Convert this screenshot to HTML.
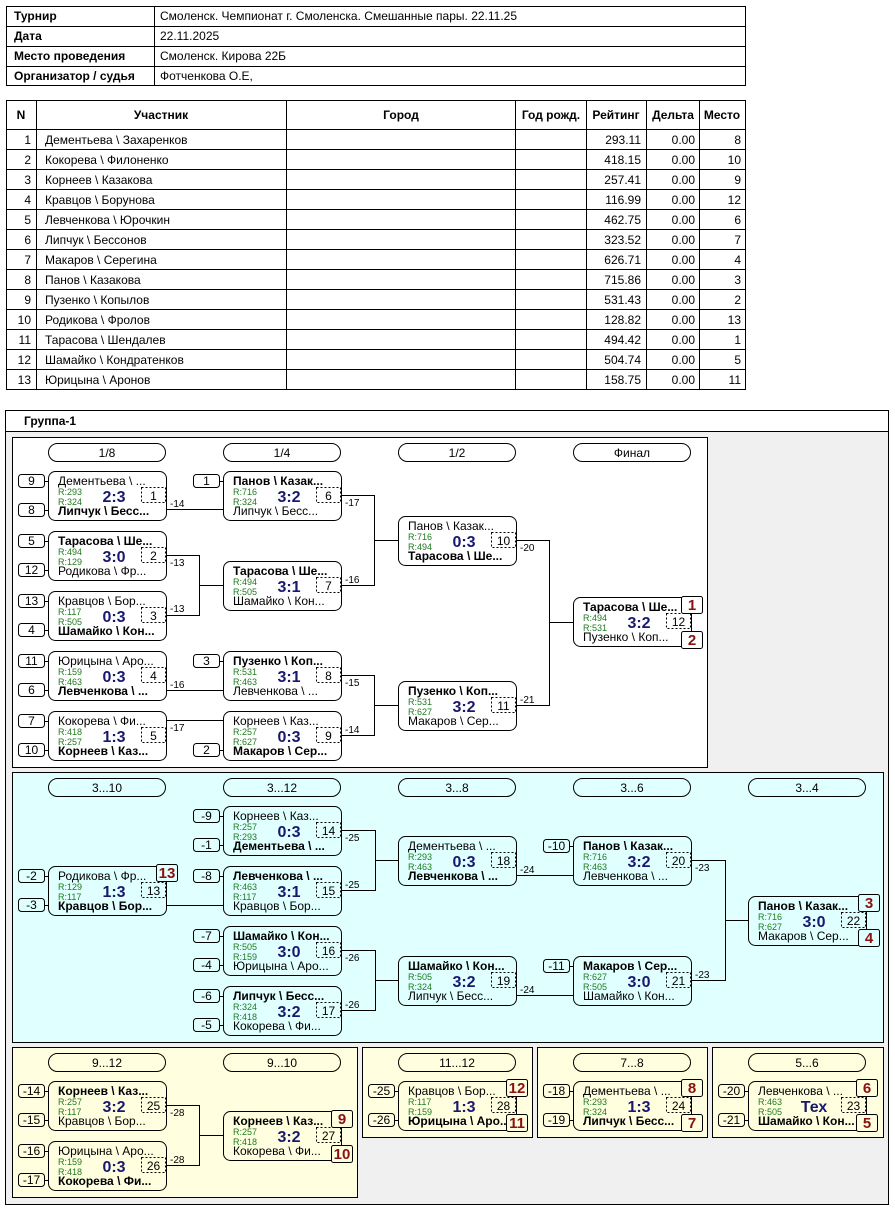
<!DOCTYPE html>
<html><head><meta charset="utf-8">
<style>
html,body{margin:0;padding:0;background:#fff;width:895px;height:1210px;overflow:hidden}
svg{display:block}
text{font-family:"Liberation Sans","DejaVu Sans",sans-serif;font-size:12px;fill:#000}
.b{font-weight:bold}
.r{font-size:9px;fill:#1e7b1e}
.s{font-size:16px;font-weight:bold;fill:#18186e;text-anchor:middle}
.c{text-anchor:middle}
.e{text-anchor:end}
.l{font-size:10px}
.p{font-size:15px;font-weight:bold;fill:#8b1010;text-anchor:middle}
.k{fill:none;stroke:#000;stroke-width:1}
.dn{fill:none;stroke:#000;stroke-width:1;stroke-dasharray:2 2}
.ln{fill:none;stroke:#000;stroke-width:1}
</style></head><body>
<svg width="895" height="1210" viewBox="0 0 895 1210" xmlns="http://www.w3.org/2000/svg">
<!-- info table -->
<rect class="k" x="6.5" y="6.5" width="739" height="79"/>
<path class="ln" d="M6 26.5H746M6 46.5H746M6 66.5H746M154.5 6V86"/>
<text class="b" x="14" y="20">Турнир</text>
<text class="b" x="14" y="40">Дата</text>
<text class="b" x="14" y="60">Место проведения</text>
<text class="b" x="14" y="80">Организатор / судья</text>
<text x="160" y="20">Смоленск. Чемпионат г. Смоленска. Смешанные пары. 22.11.25</text>
<text x="160" y="40">22.11.2025</text>
<text x="160" y="60">Смоленск. Кирова 22Б</text>
<text x="160" y="80">Фотченкова О.Е,</text>

<!-- participants table -->
<rect class="k" x="6.5" y="100.5" width="739" height="289"/>
<path class="ln" d="M6 129.5H746M6 149.5H746M6 169.5H746M6 189.5H746M6 209.5H746M6 229.5H746M6 249.5H746M6 269.5H746M6 289.5H746M6 309.5H746M6 329.5H746M6 349.5H746M6 369.5H746M36.5 100V390M286.5 100V390M515.5 100V390M586.5 100V390M646.5 100V390M699.5 100V390"/>
<text class="b c" x="21" y="119">N</text>
<text class="b c" x="161" y="119">Участник</text>
<text class="b c" x="401" y="119">Город</text>
<text class="b c" x="551" y="119">Год рожд.</text>
<text class="b c" x="616" y="119">Рейтинг</text>
<text class="b c" x="673" y="119">Дельта</text>
<text class="b c" x="722" y="119">Место</text>

<g>
<text class="e" x="31" y="144">1</text><text x="45" y="144">Дементьева \ Захаренков</text><text class="e" x="641" y="144">293.11</text><text class="e" x="695" y="144">0.00</text><text class="e" x="741" y="144">8</text>
<text class="e" x="31" y="164">2</text><text x="45" y="164">Кокорева \ Филоненко</text><text class="e" x="641" y="164">418.15</text><text class="e" x="695" y="164">0.00</text><text class="e" x="741" y="164">10</text>
<text class="e" x="31" y="184">3</text><text x="45" y="184">Корнеев \ Казакова</text><text class="e" x="641" y="184">257.41</text><text class="e" x="695" y="184">0.00</text><text class="e" x="741" y="184">9</text>
<text class="e" x="31" y="204">4</text><text x="45" y="204">Кравцов \ Борунова</text><text class="e" x="641" y="204">116.99</text><text class="e" x="695" y="204">0.00</text><text class="e" x="741" y="204">12</text>
<text class="e" x="31" y="224">5</text><text x="45" y="224">Левченкова \ Юрочкин</text><text class="e" x="641" y="224">462.75</text><text class="e" x="695" y="224">0.00</text><text class="e" x="741" y="224">6</text>
<text class="e" x="31" y="244">6</text><text x="45" y="244">Липчук \ Бессонов</text><text class="e" x="641" y="244">323.52</text><text class="e" x="695" y="244">0.00</text><text class="e" x="741" y="244">7</text>
<text class="e" x="31" y="264">7</text><text x="45" y="264">Макаров \ Серегина</text><text class="e" x="641" y="264">626.71</text><text class="e" x="695" y="264">0.00</text><text class="e" x="741" y="264">4</text>
<text class="e" x="31" y="284">8</text><text x="45" y="284">Панов \ Казакова</text><text class="e" x="641" y="284">715.86</text><text class="e" x="695" y="284">0.00</text><text class="e" x="741" y="284">3</text>
<text class="e" x="31" y="304">9</text><text x="45" y="304">Пузенко \ Копылов</text><text class="e" x="641" y="304">531.43</text><text class="e" x="695" y="304">0.00</text><text class="e" x="741" y="304">2</text>
<text class="e" x="31" y="324">10</text><text x="45" y="324">Родикова \ Фролов</text><text class="e" x="641" y="324">128.82</text><text class="e" x="695" y="324">0.00</text><text class="e" x="741" y="324">13</text>
<text class="e" x="31" y="344">11</text><text x="45" y="344">Тарасова \ Шендалев</text><text class="e" x="641" y="344">494.42</text><text class="e" x="695" y="344">0.00</text><text class="e" x="741" y="344">1</text>
<text class="e" x="31" y="364">12</text><text x="45" y="364">Шамайко \ Кондратенков</text><text class="e" x="641" y="364">504.74</text><text class="e" x="695" y="364">0.00</text><text class="e" x="741" y="364">5</text>
<text class="e" x="31" y="384">13</text><text x="45" y="384">Юрицына \ Аронов</text><text class="e" x="641" y="384">158.75</text><text class="e" x="695" y="384">0.00</text><text class="e" x="741" y="384">11</text>
</g>

<!-- group box -->
<rect x="5.5" y="410.5" width="883" height="794" fill="#f0f0f0" stroke="#000"/>
<rect x="6" y="411" width="882" height="20" fill="#fff"/>
<path class="ln" d="M5 431.5H889"/>
<text class="b" x="24" y="425">Группа-1</text>

<!-- panels -->
<rect x="12.5" y="437.5" width="695" height="330" fill="#fff" stroke="#000"/>
<rect x="12.5" y="772.5" width="871" height="270" fill="#e0ffff" stroke="#000"/>
<rect x="12.5" y="1047.5" width="345" height="150" fill="#ffffe0" stroke="#000"/>
<rect x="362.5" y="1047.5" width="170" height="90" fill="#ffffe0" stroke="#000"/>
<rect x="537.5" y="1047.5" width="170" height="90" fill="#ffffe0" stroke="#000"/>
<rect x="712.5" y="1047.5" width="171" height="90" fill="#ffffe0" stroke="#000"/>

<!-- pills -->
<g>
<rect class="k" x="48.5" y="443.5" width="117" height="18" rx="9"/><text class="c" x="107" y="457">1/8</text>
<rect class="k" x="223.5" y="443.5" width="117" height="18" rx="9"/><text class="c" x="282" y="457">1/4</text>
<rect class="k" x="398.5" y="443.5" width="117" height="18" rx="9"/><text class="c" x="457" y="457">1/2</text>
<rect class="k" x="573.5" y="443.5" width="117" height="18" rx="9"/><text class="c" x="632" y="457">Финал</text>

<rect class="k" x="48.5" y="778.5" width="117" height="18" rx="9"/><text class="c" x="107" y="792">3...10</text>
<rect class="k" x="223.5" y="778.5" width="117" height="18" rx="9"/><text class="c" x="282" y="792">3...12</text>
<rect class="k" x="398.5" y="778.5" width="117" height="18" rx="9"/><text class="c" x="457" y="792">3...8</text>
<rect class="k" x="573.5" y="778.5" width="117" height="18" rx="9"/><text class="c" x="632" y="792">3...6</text>
<rect class="k" x="748.5" y="778.5" width="117" height="18" rx="9"/><text class="c" x="807" y="792">3...4</text>

<rect class="k" x="48.5" y="1053.5" width="117" height="18" rx="9"/><text class="c" x="107" y="1067">9...12</text>
<rect class="k" x="223.5" y="1053.5" width="117" height="18" rx="9"/><text class="c" x="282" y="1067">9...10</text>
<rect class="k" x="398.5" y="1053.5" width="117" height="18" rx="9"/><text class="c" x="457" y="1067">11...12</text>
<rect class="k" x="573.5" y="1053.5" width="117" height="18" rx="9"/><text class="c" x="632" y="1067">7...8</text>
<rect class="k" x="748.5" y="1053.5" width="117" height="18" rx="9"/><text class="c" x="807" y="1067">5...6</text>
</g>

<!-- connector lines -->
<path class="ln" d="M166 509.5H223M166 555.5H199.5V615.5H166M199.5 585.5H223M166 690.5H223M166 720.5H223M341 495.5H374.5V585.5H341M374.5 540.5H398M341 675.5H374.5V735.5H341M374.5 705.5H398M516 540.5H549.5V705.5H516M549.5 622.5H573"/>
<path class="ln" d="M166 905.5H223M341 830.5H375.5V890.5H341M375.5 860.5H398M341 950.5H375.5V1010.5H341M375.5 980.5H398M516 875.5H573M516 995.5H573M691 860.5H725.5V980.5H691M725.5 920.5H748"/>
<path class="ln" d="M166 1105.5H199.5V1165.5H166M199.5 1135.5H223"/>

<!-- connector labels -->
<g class="l">
<text class="l" x="170" y="507">-14</text>
<text class="l" x="170" y="566">-13</text>
<text class="l" x="170" y="612">-13</text>
<text class="l" x="170" y="688">-16</text>
<text class="l" x="170" y="731">-17</text>
<text class="l" x="345" y="506">-17</text>
<text class="l" x="345" y="583">-16</text>
<text class="l" x="345" y="686">-15</text>
<text class="l" x="345" y="733">-14</text>
<text class="l" x="520" y="551">-20</text>
<text class="l" x="520" y="703">-21</text>
<text class="l" x="345" y="841">-25</text>
<text class="l" x="345" y="888">-25</text>
<text class="l" x="345" y="961">-26</text>
<text class="l" x="345" y="1008">-26</text>
<text class="l" x="520" y="873">-24</text>
<text class="l" x="520" y="993">-24</text>
<text class="l" x="695" y="871">-23</text>
<text class="l" x="695" y="978">-23</text>
<text class="l" x="170" y="1116">-28</text>
<text class="l" x="170" y="1163">-28</text>
</g>

<!-- ===== MATCHES ===== -->
<!-- M1 -->
<g transform="translate(48,471)">
<rect class="k" x=".5" y=".5" width="118" height="49" rx="7"/>
<text x="10" y="14">Дементьева \ ...</text><text class="r" x="10" y="24">R:293</text><text class="r" x="10" y="34">R:324</text><text class="b" x="10" y="44">Липчук \ Бесс...</text>
<text class="s" x="66" y="31">2:3</text><rect class="dn" x="93.5" y="16.5" width="24" height="15"/><text class="c" x="105.5" y="29">1</text>
<rect class="k" x="-29.5" y="3.5" width="26" height="13" rx="3"/><text class="c" x="-16.5" y="14">9</text><path class="ln" d="M-3 10.5H0"/>
<rect class="k" x="-29.5" y="32.5" width="26" height="13" rx="3"/><text class="c" x="-16.5" y="43">8</text><path class="ln" d="M-3 39.5H0"/>
</g>
<!-- M2 -->
<g transform="translate(48,531)">
<rect class="k" x=".5" y=".5" width="118" height="49" rx="7"/>
<text class="b" x="10" y="14">Тарасова \ Ше...</text><text class="r" x="10" y="24">R:494</text><text class="r" x="10" y="34">R:129</text><text x="10" y="44">Родикова \ Фр...</text>
<text class="s" x="66" y="31">3:0</text><rect class="dn" x="93.5" y="16.5" width="24" height="15"/><text class="c" x="105.5" y="29">2</text>
<rect class="k" x="-29.5" y="3.5" width="26" height="13" rx="3"/><text class="c" x="-16.5" y="14">5</text><path class="ln" d="M-3 10.5H0"/>
<rect class="k" x="-29.5" y="32.5" width="26" height="13" rx="3"/><text class="c" x="-16.5" y="43">12</text><path class="ln" d="M-3 39.5H0"/>
</g>
<!-- M3 -->
<g transform="translate(48,591)">
<rect class="k" x=".5" y=".5" width="118" height="49" rx="7"/>
<text x="10" y="14">Кравцов \ Бор...</text><text class="r" x="10" y="24">R:117</text><text class="r" x="10" y="34">R:505</text><text class="b" x="10" y="44">Шамайко \ Кон...</text>
<text class="s" x="66" y="31">0:3</text><rect class="dn" x="93.5" y="16.5" width="24" height="15"/><text class="c" x="105.5" y="29">3</text>
<rect class="k" x="-29.5" y="3.5" width="26" height="13" rx="3"/><text class="c" x="-16.5" y="14">13</text><path class="ln" d="M-3 10.5H0"/>
<rect class="k" x="-29.5" y="32.5" width="26" height="13" rx="3"/><text class="c" x="-16.5" y="43">4</text><path class="ln" d="M-3 39.5H0"/>
</g>
<!-- M4 -->
<g transform="translate(48,651)">
<rect class="k" x=".5" y=".5" width="118" height="49" rx="7"/>
<text x="10" y="14">Юрицына \ Аро...</text><text class="r" x="10" y="24">R:159</text><text class="r" x="10" y="34">R:463</text><text class="b" x="10" y="44">Левченкова \ ...</text>
<text class="s" x="66" y="31">0:3</text><rect class="dn" x="93.5" y="16.5" width="24" height="15"/><text class="c" x="105.5" y="29">4</text>
<rect class="k" x="-29.5" y="3.5" width="26" height="13" rx="3"/><text class="c" x="-16.5" y="14">11</text><path class="ln" d="M-3 10.5H0"/>
<rect class="k" x="-29.5" y="32.5" width="26" height="13" rx="3"/><text class="c" x="-16.5" y="43">6</text><path class="ln" d="M-3 39.5H0"/>
</g>
<!-- M5 -->
<g transform="translate(48,711)">
<rect class="k" x=".5" y=".5" width="118" height="49" rx="7"/>
<text x="10" y="14">Кокорева \ Фи...</text><text class="r" x="10" y="24">R:418</text><text class="r" x="10" y="34">R:257</text><text class="b" x="10" y="44">Корнеев \ Каз...</text>
<text class="s" x="66" y="31">1:3</text><rect class="dn" x="93.5" y="16.5" width="24" height="15"/><text class="c" x="105.5" y="29">5</text>
<rect class="k" x="-29.5" y="3.5" width="26" height="13" rx="3"/><text class="c" x="-16.5" y="14">7</text><path class="ln" d="M-3 10.5H0"/>
<rect class="k" x="-29.5" y="32.5" width="26" height="13" rx="3"/><text class="c" x="-16.5" y="43">10</text><path class="ln" d="M-3 39.5H0"/>
</g>
<!-- M6 -->
<g transform="translate(223,471)">
<rect class="k" x=".5" y=".5" width="118" height="49" rx="7"/>
<text class="b" x="10" y="14">Панов \ Казак...</text><text class="r" x="10" y="24">R:716</text><text class="r" x="10" y="34">R:324</text><text x="10" y="44">Липчук \ Бесс...</text>
<text class="s" x="66" y="31">3:2</text><rect class="dn" x="93.5" y="16.5" width="24" height="15"/><text class="c" x="105.5" y="29">6</text>
<rect class="k" x="-29.5" y="3.5" width="26" height="13" rx="3"/><text class="c" x="-16.5" y="14">1</text><path class="ln" d="M-3 10.5H0"/>
</g>
<!-- M7 -->
<g transform="translate(223,561)">
<rect class="k" x=".5" y=".5" width="118" height="49" rx="7"/>
<text class="b" x="10" y="14">Тарасова \ Ше...</text><text class="r" x="10" y="24">R:494</text><text class="r" x="10" y="34">R:505</text><text x="10" y="44">Шамайко \ Кон...</text>
<text class="s" x="66" y="31">3:1</text><rect class="dn" x="93.5" y="16.5" width="24" height="15"/><text class="c" x="105.5" y="29">7</text>
</g>
<!-- M8 -->
<g transform="translate(223,651)">
<rect class="k" x=".5" y=".5" width="118" height="49" rx="7"/>
<text class="b" x="10" y="14">Пузенко \ Коп...</text><text class="r" x="10" y="24">R:531</text><text class="r" x="10" y="34">R:463</text><text x="10" y="44">Левченкова \ ...</text>
<text class="s" x="66" y="31">3:1</text><rect class="dn" x="93.5" y="16.5" width="24" height="15"/><text class="c" x="105.5" y="29">8</text>
<rect class="k" x="-29.5" y="3.5" width="26" height="13" rx="3"/><text class="c" x="-16.5" y="14">3</text><path class="ln" d="M-3 10.5H0"/>
</g>
<!-- M9 -->
<g transform="translate(223,711)">
<rect class="k" x=".5" y=".5" width="118" height="49" rx="7"/>
<text x="10" y="14">Корнеев \ Каз...</text><text class="r" x="10" y="24">R:257</text><text class="r" x="10" y="34">R:627</text><text class="b" x="10" y="44">Макаров \ Сер...</text>
<text class="s" x="66" y="31">0:3</text><rect class="dn" x="93.5" y="16.5" width="24" height="15"/><text class="c" x="105.5" y="29">9</text>
<rect class="k" x="-29.5" y="32.5" width="26" height="13" rx="3"/><text class="c" x="-16.5" y="43">2</text><path class="ln" d="M-3 39.5H0"/>
</g>
<!-- M10 -->
<g transform="translate(398,516)">
<rect class="k" x=".5" y=".5" width="118" height="49" rx="7"/>
<text x="10" y="14">Панов \ Казак...</text><text class="r" x="10" y="24">R:716</text><text class="r" x="10" y="34">R:494</text><text class="b" x="10" y="44">Тарасова \ Ше...</text>
<text class="s" x="66" y="31">0:3</text><rect class="dn" x="93.5" y="16.5" width="24" height="15"/><text class="c" x="105.5" y="29">10</text>
</g>
<!-- M11 -->
<g transform="translate(398,681)">
<rect class="k" x=".5" y=".5" width="118" height="49" rx="7"/>
<text class="b" x="10" y="14">Пузенко \ Коп...</text><text class="r" x="10" y="24">R:531</text><text class="r" x="10" y="34">R:627</text><text x="10" y="44">Макаров \ Сер...</text>
<text class="s" x="66" y="31">3:2</text><rect class="dn" x="93.5" y="16.5" width="24" height="15"/><text class="c" x="105.5" y="29">11</text>
</g>
<!-- M12 -->
<g transform="translate(573,597)">
<rect class="k" x=".5" y=".5" width="118" height="49" rx="7"/>
<text class="b" x="10" y="14">Тарасова \ Ше...</text><text class="r" x="10" y="24">R:494</text><text class="r" x="10" y="34">R:531</text><text x="10" y="44">Пузенко \ Коп...</text>
<text class="s" x="66" y="31">3:2</text><rect class="dn" x="93.5" y="16.5" width="24" height="15"/><text class="c" x="105.5" y="29">12</text>
<rect x="108.5" y="-0.5" width="21" height="17" rx="2" fill="#fff" stroke="#000"/><text class="p" x="119" y="13">1</text>
<rect x="108.5" y="34.5" width="21" height="17" rx="2" fill="#fff" stroke="#000"/><text class="p" x="119" y="48">2</text>
</g>

<!-- consolation -->
<!-- M13 -->
<g transform="translate(48,866)">
<rect class="k" x=".5" y=".5" width="118" height="49" rx="7"/>
<text x="10" y="14">Родикова \ Фр...</text><text class="r" x="10" y="24">R:129</text><text class="r" x="10" y="34">R:117</text><text class="b" x="10" y="44">Кравцов \ Бор...</text>
<text class="s" x="66" y="31">1:3</text><rect class="dn" x="93.5" y="16.5" width="24" height="15"/><text class="c" x="105.5" y="29">13</text>
<rect x="108.5" y="-1.5" width="21" height="17" rx="2" fill="#e0ffff" stroke="#000"/><text class="p" x="119" y="12">13</text>
<rect class="k" x="-29.5" y="3.5" width="26" height="13" rx="3"/><text class="c" x="-16.5" y="14">-2</text><path class="ln" d="M-3 10.5H0"/>
<rect class="k" x="-29.5" y="32.5" width="26" height="13" rx="3"/><text class="c" x="-16.5" y="43">-3</text><path class="ln" d="M-3 39.5H0"/>
</g>
<!-- M14 -->
<g transform="translate(223,806)">
<rect class="k" x=".5" y=".5" width="118" height="49" rx="7"/>
<text x="10" y="14">Корнеев \ Каз...</text><text class="r" x="10" y="24">R:257</text><text class="r" x="10" y="34">R:293</text><text class="b" x="10" y="44">Дементьева \ ...</text>
<text class="s" x="66" y="31">0:3</text><rect class="dn" x="93.5" y="16.5" width="24" height="15"/><text class="c" x="105.5" y="29">14</text>
<rect class="k" x="-29.5" y="3.5" width="26" height="13" rx="3"/><text class="c" x="-16.5" y="14">-9</text><path class="ln" d="M-3 10.5H0"/>
<rect class="k" x="-29.5" y="32.5" width="26" height="13" rx="3"/><text class="c" x="-16.5" y="43">-1</text><path class="ln" d="M-3 39.5H0"/>
</g>
<!-- M15 -->
<g transform="translate(223,866)">
<rect class="k" x=".5" y=".5" width="118" height="49" rx="7"/>
<text class="b" x="10" y="14">Левченкова \ ...</text><text class="r" x="10" y="24">R:463</text><text class="r" x="10" y="34">R:117</text><text x="10" y="44">Кравцов \ Бор...</text>
<text class="s" x="66" y="31">3:1</text><rect class="dn" x="93.5" y="16.5" width="24" height="15"/><text class="c" x="105.5" y="29">15</text>
<rect class="k" x="-29.5" y="3.5" width="26" height="13" rx="3"/><text class="c" x="-16.5" y="14">-8</text><path class="ln" d="M-3 10.5H0"/>
</g>
<!-- M16 -->
<g transform="translate(223,926)">
<rect class="k" x=".5" y=".5" width="118" height="49" rx="7"/>
<text class="b" x="10" y="14">Шамайко \ Кон...</text><text class="r" x="10" y="24">R:505</text><text class="r" x="10" y="34">R:159</text><text x="10" y="44">Юрицына \ Аро...</text>
<text class="s" x="66" y="31">3:0</text><rect class="dn" x="93.5" y="16.5" width="24" height="15"/><text class="c" x="105.5" y="29">16</text>
<rect class="k" x="-29.5" y="3.5" width="26" height="13" rx="3"/><text class="c" x="-16.5" y="14">-7</text><path class="ln" d="M-3 10.5H0"/>
<rect class="k" x="-29.5" y="32.5" width="26" height="13" rx="3"/><text class="c" x="-16.5" y="43">-4</text><path class="ln" d="M-3 39.5H0"/>
</g>
<!-- M17 -->
<g transform="translate(223,986)">
<rect class="k" x=".5" y=".5" width="118" height="49" rx="7"/>
<text class="b" x="10" y="14">Липчук \ Бесс...</text><text class="r" x="10" y="24">R:324</text><text class="r" x="10" y="34">R:418</text><text x="10" y="44">Кокорева \ Фи...</text>
<text class="s" x="66" y="31">3:2</text><rect class="dn" x="93.5" y="16.5" width="24" height="15"/><text class="c" x="105.5" y="29">17</text>
<rect class="k" x="-29.5" y="3.5" width="26" height="13" rx="3"/><text class="c" x="-16.5" y="14">-6</text><path class="ln" d="M-3 10.5H0"/>
<rect class="k" x="-29.5" y="32.5" width="26" height="13" rx="3"/><text class="c" x="-16.5" y="43">-5</text><path class="ln" d="M-3 39.5H0"/>
</g>
<!-- M18 -->
<g transform="translate(398,836)">
<rect class="k" x=".5" y=".5" width="118" height="49" rx="7"/>
<text x="10" y="14">Дементьева \ ...</text><text class="r" x="10" y="24">R:293</text><text class="r" x="10" y="34">R:463</text><text class="b" x="10" y="44">Левченкова \ ...</text>
<text class="s" x="66" y="31">0:3</text><rect class="dn" x="93.5" y="16.5" width="24" height="15"/><text class="c" x="105.5" y="29">18</text>
</g>
<!-- M19 -->
<g transform="translate(398,956)">
<rect class="k" x=".5" y=".5" width="118" height="49" rx="7"/>
<text class="b" x="10" y="14">Шамайко \ Кон...</text><text class="r" x="10" y="24">R:505</text><text class="r" x="10" y="34">R:324</text><text x="10" y="44">Липчук \ Бесс...</text>
<text class="s" x="66" y="31">3:2</text><rect class="dn" x="93.5" y="16.5" width="24" height="15"/><text class="c" x="105.5" y="29">19</text>
</g>
<!-- M20 -->
<g transform="translate(573,836)">
<rect class="k" x=".5" y=".5" width="118" height="49" rx="7"/>
<text class="b" x="10" y="14">Панов \ Казак...</text><text class="r" x="10" y="24">R:716</text><text class="r" x="10" y="34">R:463</text><text x="10" y="44">Левченкова \ ...</text>
<text class="s" x="66" y="31">3:2</text><rect class="dn" x="93.5" y="16.5" width="24" height="15"/><text class="c" x="105.5" y="29">20</text>
<rect class="k" x="-29.5" y="3.5" width="26" height="13" rx="3"/><text class="c" x="-16.5" y="14">-10</text><path class="ln" d="M-3 10.5H0"/>
</g>
<!-- M21 -->
<g transform="translate(573,956)">
<rect class="k" x=".5" y=".5" width="118" height="49" rx="7"/>
<text class="b" x="10" y="14">Макаров \ Сер...</text><text class="r" x="10" y="24">R:627</text><text class="r" x="10" y="34">R:505</text><text x="10" y="44">Шамайко \ Кон...</text>
<text class="s" x="66" y="31">3:0</text><rect class="dn" x="93.5" y="16.5" width="24" height="15"/><text class="c" x="105.5" y="29">21</text>
<rect class="k" x="-29.5" y="3.5" width="26" height="13" rx="3"/><text class="c" x="-16.5" y="14">-11</text><path class="ln" d="M-3 10.5H0"/>
</g>
<!-- M22 -->
<g transform="translate(748,896)">
<rect class="k" x=".5" y=".5" width="118" height="49" rx="7"/>
<text class="b" x="10" y="14">Панов \ Казак...</text><text class="r" x="10" y="24">R:716</text><text class="r" x="10" y="34">R:627</text><text x="10" y="44">Макаров \ Сер...</text>
<text class="s" x="66" y="31">3:0</text><rect class="dn" x="93.5" y="16.5" width="24" height="15"/><text class="c" x="105.5" y="29">22</text>
<rect x="110.5" y="-1.5" width="21" height="17" rx="2" fill="#e0ffff" stroke="#000"/><text class="p" x="121" y="12">3</text>
<rect x="110.5" y="33.5" width="21" height="17" rx="2" fill="#e0ffff" stroke="#000"/><text class="p" x="121" y="47">4</text>
</g>

<!-- bottom panels -->
<!-- M25 -->
<g transform="translate(48,1081)">
<rect class="k" x=".5" y=".5" width="118" height="49" rx="7"/>
<text class="b" x="10" y="14">Корнеев \ Каз...</text><text class="r" x="10" y="24">R:257</text><text class="r" x="10" y="34">R:117</text><text x="10" y="44">Кравцов \ Бор...</text>
<text class="s" x="66" y="31">3:2</text><rect class="dn" x="93.5" y="16.5" width="24" height="15"/><text class="c" x="105.5" y="29">25</text>
<rect class="k" x="-29.5" y="3.5" width="26" height="13" rx="3"/><text class="c" x="-16.5" y="14">-14</text><path class="ln" d="M-3 10.5H0"/>
<rect class="k" x="-29.5" y="32.5" width="26" height="13" rx="3"/><text class="c" x="-16.5" y="43">-15</text><path class="ln" d="M-3 39.5H0"/>
</g>
<!-- M26 -->
<g transform="translate(48,1141)">
<rect class="k" x=".5" y=".5" width="118" height="49" rx="7"/>
<text x="10" y="14">Юрицына \ Аро...</text><text class="r" x="10" y="24">R:159</text><text class="r" x="10" y="34">R:418</text><text class="b" x="10" y="44">Кокорева \ Фи...</text>
<text class="s" x="66" y="31">0:3</text><rect class="dn" x="93.5" y="16.5" width="24" height="15"/><text class="c" x="105.5" y="29">26</text>
<rect class="k" x="-29.5" y="3.5" width="26" height="13" rx="3"/><text class="c" x="-16.5" y="14">-16</text><path class="ln" d="M-3 10.5H0"/>
<rect class="k" x="-29.5" y="32.5" width="26" height="13" rx="3"/><text class="c" x="-16.5" y="43">-17</text><path class="ln" d="M-3 39.5H0"/>
</g>
<!-- M27 -->
<g transform="translate(223,1111)">
<rect class="k" x=".5" y=".5" width="118" height="49" rx="7"/>
<text class="b" x="10" y="14">Корнеев \ Каз...</text><text class="r" x="10" y="24">R:257</text><text class="r" x="10" y="34">R:418</text><text x="10" y="44">Кокорева \ Фи...</text>
<text class="s" x="66" y="31">3:2</text><rect class="dn" x="93.5" y="16.5" width="24" height="15"/><text class="c" x="105.5" y="29">27</text>
<rect x="108.5" y="-0.5" width="21" height="17" rx="2" fill="#ffffe0" stroke="#000"/><text class="p" x="119" y="13">9</text>
<rect x="108.5" y="34.5" width="21" height="17" rx="2" fill="#ffffe0" stroke="#000"/><text class="p" x="119" y="48">10</text>
</g>
<!-- M28 -->
<g transform="translate(398,1081)">
<rect class="k" x=".5" y=".5" width="118" height="49" rx="7"/>
<text x="10" y="14">Кравцов \ Бор...</text><text class="r" x="10" y="24">R:117</text><text class="r" x="10" y="34">R:159</text><text class="b" x="10" y="44">Юрицына \ Аро...</text>
<text class="s" x="66" y="31">1:3</text><rect class="dn" x="93.5" y="16.5" width="24" height="15"/><text class="c" x="105.5" y="29">28</text>
<rect x="108.5" y="-1.5" width="21" height="17" rx="2" fill="#ffffe0" stroke="#000"/><text class="p" x="119" y="12">12</text>
<rect x="108.5" y="33.5" width="21" height="17" rx="2" fill="#ffffe0" stroke="#000"/><text class="p" x="119" y="47">11</text>
<rect class="k" x="-29.5" y="3.5" width="26" height="13" rx="3"/><text class="c" x="-16.5" y="14">-25</text><path class="ln" d="M-3 10.5H0"/>
<rect class="k" x="-29.5" y="32.5" width="26" height="13" rx="3"/><text class="c" x="-16.5" y="43">-26</text><path class="ln" d="M-3 39.5H0"/>
</g>
<!-- M24 -->
<g transform="translate(573,1081)">
<rect class="k" x=".5" y=".5" width="118" height="49" rx="7"/>
<text x="10" y="14">Дементьева \ ...</text><text class="r" x="10" y="24">R:293</text><text class="r" x="10" y="34">R:324</text><text class="b" x="10" y="44">Липчук \ Бесс...</text>
<text class="s" x="66" y="31">1:3</text><rect class="dn" x="93.5" y="16.5" width="24" height="15"/><text class="c" x="105.5" y="29">24</text>
<rect x="108.5" y="-1.5" width="21" height="17" rx="2" fill="#ffffe0" stroke="#000"/><text class="p" x="119" y="12">8</text>
<rect x="108.5" y="33.5" width="21" height="17" rx="2" fill="#ffffe0" stroke="#000"/><text class="p" x="119" y="47">7</text>
<rect class="k" x="-29.5" y="3.5" width="26" height="13" rx="3"/><text class="c" x="-16.5" y="14">-18</text><path class="ln" d="M-3 10.5H0"/>
<rect class="k" x="-29.5" y="32.5" width="26" height="13" rx="3"/><text class="c" x="-16.5" y="43">-19</text><path class="ln" d="M-3 39.5H0"/>
</g>
<!-- M23 -->
<g transform="translate(748,1081)">
<rect class="k" x=".5" y=".5" width="118" height="49" rx="7"/>
<text x="10" y="14">Левченкова \ ...</text><text class="r" x="10" y="24">R:463</text><text class="r" x="10" y="34">R:505</text><text class="b" x="10" y="44">Шамайко \ Кон...</text>
<text class="s" x="66" y="31">Тех</text><rect class="dn" x="93.5" y="16.5" width="24" height="15"/><text class="c" x="105.5" y="29">23</text>
<rect x="108.5" y="-1.5" width="21" height="17" rx="2" fill="#ffffe0" stroke="#000"/><text class="p" x="119" y="12">6</text>
<rect x="108.5" y="33.5" width="21" height="17" rx="2" fill="#ffffe0" stroke="#000"/><text class="p" x="119" y="47">5</text>
<rect class="k" x="-29.5" y="3.5" width="26" height="13" rx="3"/><text class="c" x="-16.5" y="14">-20</text><path class="ln" d="M-3 10.5H0"/>
<rect class="k" x="-29.5" y="32.5" width="26" height="13" rx="3"/><text class="c" x="-16.5" y="43">-21</text><path class="ln" d="M-3 39.5H0"/>
</g>
</svg>
</body></html>
